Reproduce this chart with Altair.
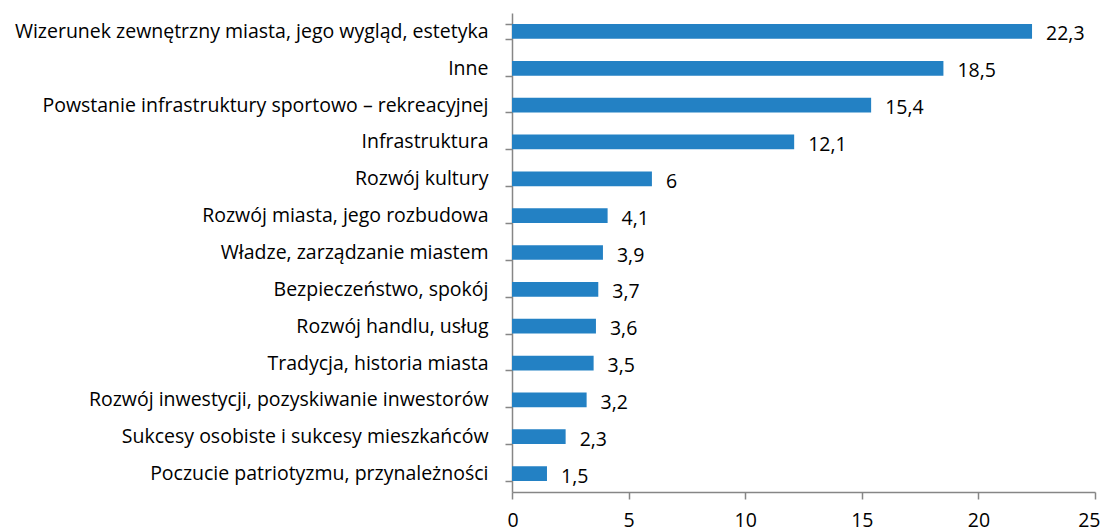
import altair as alt
import pandas as pd

categories = [
    "Wizerunek zewnętrzny miasta, jego wygląd, estetyka",
    "Inne",
    "Powstanie infrastruktury sportowo – rekreacyjnej",
    "Infrastruktura",
    "Rozwój kultury",
    "Rozwój miasta, jego rozbudowa",
    "Władze, zarządzanie miastem",
    "Bezpieczeństwo, spokój",
    "Rozwój handlu, usług",
    "Tradycja, historia miasta",
    "Rozwój inwestycji, pozyskiwanie inwestorów",
    "Sukcesy osobiste i sukcesy mieszkańców",
    "Poczucie patriotyzmu, przynależności",
]
values = [22.3, 18.5, 15.4, 12.1, 6, 4.1, 3.9, 3.7, 3.6, 3.5, 3.2, 2.3, 1.5]
x_ticks = [0, 5, 10, 15, 20, 25]

df = pd.DataFrame({"kat": categories, "v": values})

FONT = "Open Sans"
FS = 19.5
AXIS_COLOR = "#868686"

y_enc = alt.Y(
    "kat:N",
    sort=categories,
    title=None,
    scale=alt.Scale(paddingInner=0.6, paddingOuter=0.3),
    axis=alt.Axis(
        tickBand="extent",
        tickSize=7,
        tickColor=AXIS_COLOR,
        domainColor=AXIS_COLOR,
        tickWidth=1.5,
        domainWidth=1.5,
        labelFont=FONT,
        labelFontSize=FS,
        labelColor="#000000",
        labelPadding=17,
        labelLimit=0,
    ),
)
x_enc = alt.X(
    "v:Q",
    title=None,
    scale=alt.Scale(domain=[0, 25], nice=False),
    axis=alt.Axis(
        values=x_ticks,
        grid=False,
        tickSize=7,
        tickColor=AXIS_COLOR,
        domainColor=AXIS_COLOR,
        tickWidth=1.5,
        domainWidth=1.5,
        labelFont=FONT,
        labelFontSize=FS,
        labelColor="#000000",
        labelPadding=12,
        labelFlush=True,
        labelFlushOffset=5,
    ),
)

bars = alt.Chart(df).mark_bar(color="#2381C4").encode(x=x_enc, y=y_enc)

text = (
    alt.Chart(df)
    .transform_calculate(lbl="replace(toString(datum.v), '.', ',')")
    .mark_text(align="left", baseline="middle", dx=14, dy=3, font=FONT, fontSize=FS, color="#000000")
    .encode(x="v:Q", y=alt.Y("kat:N", sort=categories), text="lbl:N")
)

chart = (
    alt.layer(bars, text)
    .properties(
        width=583,
        height=479,
        autosize=alt.AutoSizeParams(type="none"),
        padding={"left": 504, "top": 5, "right": 5, "bottom": 40},
    )
    .configure_view(stroke=None)
)

chart.save("out.html", embed_options={"renderer": "svg", "actions": False})
